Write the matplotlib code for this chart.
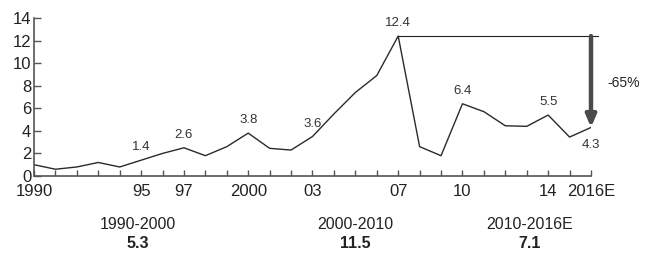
import matplotlib
matplotlib.use("Agg")
import matplotlib.pyplot as plt
from matplotlib.ticker import MultipleLocator

plt.rcParams['font.family'] = ['Liberation Sans Narrow', 'Liberation Sans', 'DejaVu Sans']

years = list(range(1990, 2017))
values = [1.0, 0.6, 0.8, 1.2, 0.8, 1.4, 2.0, 2.5, 1.8, 2.6,
          3.8, 2.45, 2.3, 3.5, 5.5, 7.4, 8.9, 12.4, 2.6, 1.8,
          6.4, 5.7, 4.45, 4.4, 5.4, 3.45, 4.3]

tick_years = [1990, 1995, 1997, 2000, 2003, 2007, 2010, 2014, 2016]
tick_labels = ['1990', '95', '97', '2000', '03', '07', '10', '14', '2016E']

label_years = [1995, 1997, 2000, 2003, 2007, 2010, 2014]
label_texts = ['1.4', '2.6', '3.8', '3.6', '12.4', '6.4', '5.5']

periods = ['1990-2000', '2000-2010', '2010-2016E']
period_values = ['5.3', '11.5', '7.1']
period_x = [1994.85, 2005.0, 2013.15]

peak_year, peak_val = 2007, 12.4
end_year, end_val = 2016, 4.3
change_text = '-65%'

fig = plt.figure(figsize=(6.5, 2.68), dpi=100)
ax = fig.add_axes([34 / 650, 92 / 268, 557 / 650, 158 / 268])

ax.plot(years, values, color='#2a2a2a', lw=1.0)

for y, t in zip(label_years, label_texts):
    v = values[years.index(y)]
    ax.annotate(t, (y, v), xytext=(0, 5), textcoords='offset points',
                ha='center', va='bottom', fontsize=9.5, color='#333333')
ax.annotate('4.3', (end_year, end_val), xytext=(0, -8), textcoords='offset points',
            ha='center', va='top', fontsize=9.5, color='#333333')

# reference line from peak and the drop arrow
ax.plot([peak_year, end_year + 0.33], [peak_val, peak_val], color='#222222',
        lw=0.8, clip_on=False)
ax.annotate('', xy=(end_year, end_val), xytext=(end_year, peak_val),
            arrowprops=dict(arrowstyle='-|>,head_width=0.3,head_length=0.7',
                            color='#4a4a4a', lw=3.2, shrinkA=0, shrinkB=0),
            annotation_clip=False)
ax.text(2017.5, 8.2, change_text, ha='center', va='center', fontsize=10,
        color='#222222', clip_on=False)

ax.set_xlim(1990, 2016)
ax.set_ylim(0, 14)
ax.set_xticks(tick_years)
ax.set_xticklabels(tick_labels)
ax.xaxis.set_minor_locator(MultipleLocator(1))
ax.set_yticks(range(0, 15, 2))

ax.spines['top'].set_visible(False)
ax.spines['right'].set_visible(False)
for s in ('left', 'bottom'):
    ax.spines[s].set_color('#555555')
    ax.spines[s].set_linewidth(1.2)
ax.tick_params(axis='both', which='both', direction='in', color='#555555',
               labelsize=12, labelcolor='#222222', width=1)
ax.tick_params(axis='x', which='both', length=4, pad=6)
ax.tick_params(axis='y', length=5, pad=2)

for x, p, v in zip(period_x, periods, period_values):
    ax.text(x, -4.3, p, ha='center', va='center', fontsize=11.5,
            color='#222222', clip_on=False)
    ax.text(x, -6.0, v, ha='center', va='center', fontsize=11.5,
            fontweight='bold', color='#222222', clip_on=False)

fig.savefig('out.png', dpi=100, facecolor='white')
